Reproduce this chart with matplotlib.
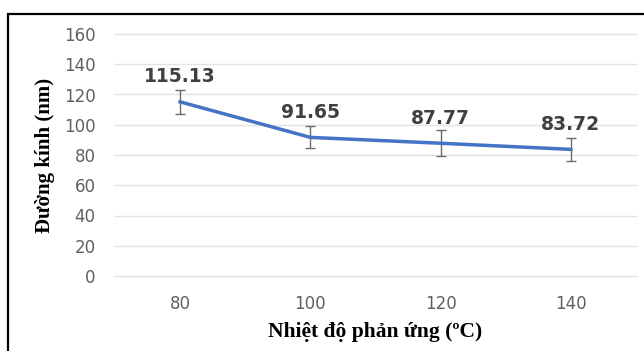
import matplotlib.pyplot as plt
from matplotlib.patches import Rectangle

# Dữ liệu
nhiet_do = ['80', '100', '120', '140']
duong_kinh = [115.13, 91.65, 87.77, 83.72]
sai_so = [8.0, 7.2, 8.6, 7.8]
y_ticks = [0, 20, 40, 60, 80, 100, 120, 140, 160]

fig = plt.figure(figsize=(6.44, 3.51), dpi=100)
ax = fig.add_axes([115/644, 1 - 276/351, 521/644, (276 - 34)/351])

# Khung viền (bị cắt ở phải và dưới)
fig.patches.append(Rectangle((8/644, -0.1), 1.2, 1 - 14/351 + 0.1,
                             transform=fig.transFigure, fill=False,
                             edgecolor='black', linewidth=1.6, zorder=10))

x = list(range(len(nhiet_do)))
ax.errorbar(x, duong_kinh, yerr=sai_so, color='#4472C4', linewidth=2.5,
            ecolor='#6b6b6b', elinewidth=1.0, capsize=3.5, capthick=1.0, zorder=3)

for xi, yi in zip(x, duong_kinh):
    ax.annotate(f'{yi:.2f}', (xi, yi), xytext=(0, 18), textcoords='offset points',
                ha='center', va='center', fontsize=13.5, fontweight='bold',
                color='#404040')

ax.set_xlim(-0.5, len(nhiet_do) - 0.5)
ax.set_ylim(0, 160)
ax.set_yticks(y_ticks)
ax.set_xticks(x)
ax.set_xticklabels(nhiet_do)
ax.grid(axis='y', color='#e3e3e3', linewidth=1.0)
for gl in ax.get_ygridlines():
    gl.set_clip_on(False)
ax.set_axisbelow(True)
for s in ax.spines.values():
    s.set_visible(False)
ax.tick_params(length=0, labelsize=12, labelcolor='#606060')
ax.tick_params(axis='x', pad=14)
ax.tick_params(axis='y', pad=14)

ax.set_xlabel('Nhiệt độ phản ứng (ºC)', family='Liberation Serif', fontweight='bold',
              fontsize=15.5, labelpad=6)
ax.set_ylabel('Đường kính (nm)', family='Liberation Serif', fontweight='bold',
              fontsize=15, labelpad=6)

fig.savefig('out.png', dpi=100)
